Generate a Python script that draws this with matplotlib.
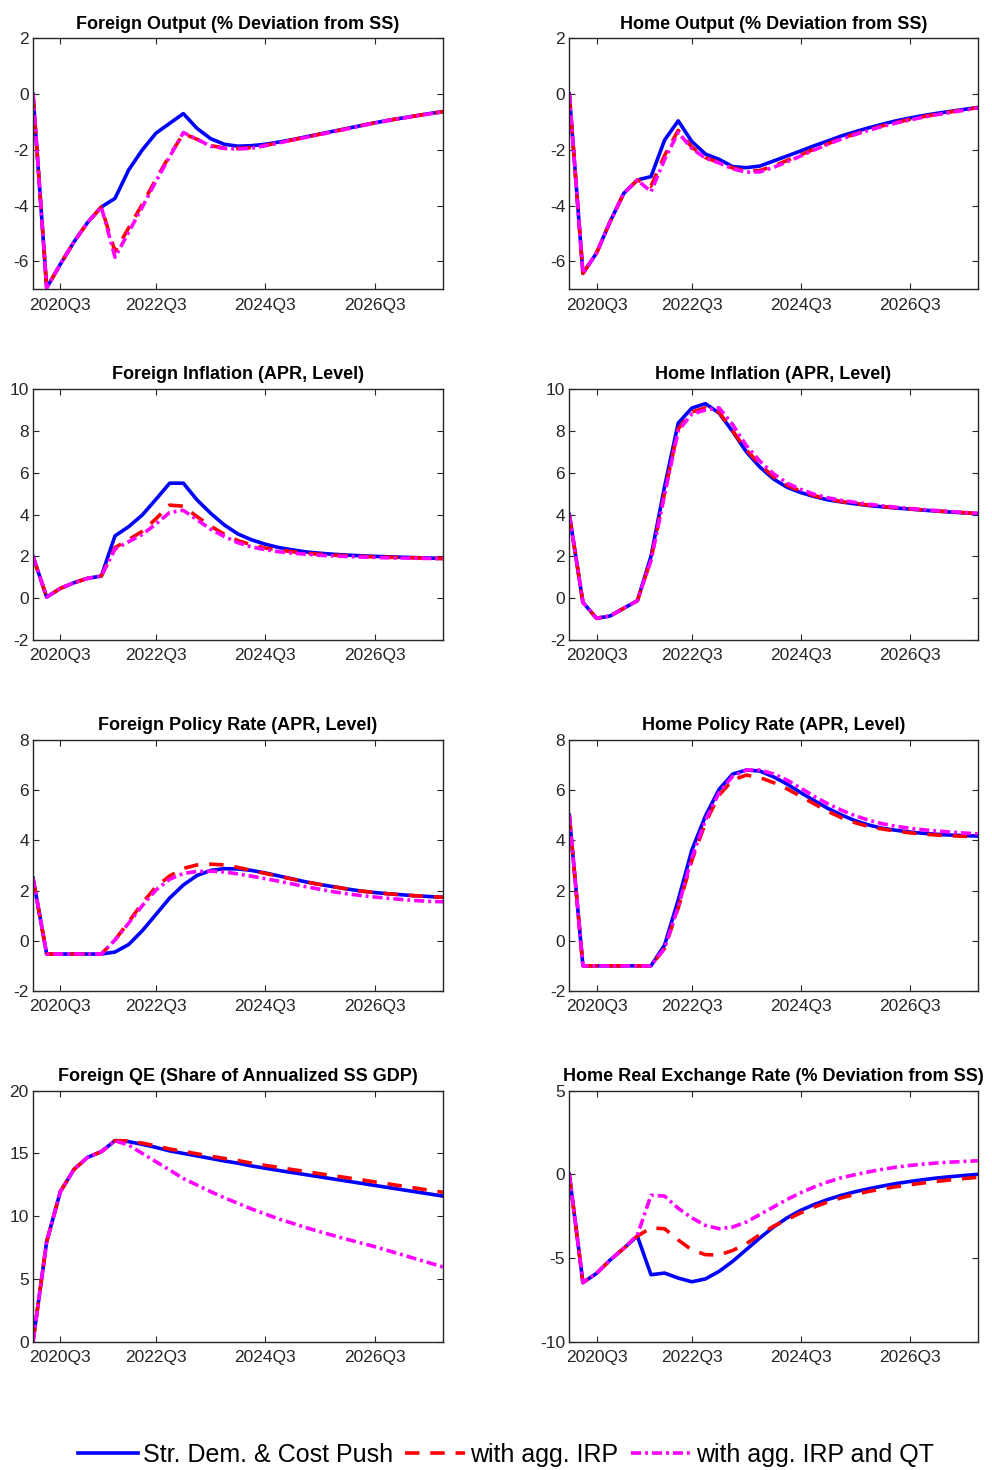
import matplotlib
matplotlib.use("Agg")
import matplotlib.pyplot as plt
import numpy as np

plt.rcParams['font.family'] = ['Liberation Sans', 'DejaVu Sans']
plt.rcParams['axes.unicode_minus'] = False

# quarters since 2020Q1
quarters = np.arange(31)
tick_pos = [2, 9, 17, 25]
tick_labels = ["2020Q3", "2022Q3", "2024Q3", "2026Q3"]

series_names = ["Str. Dem. & Cost Push", "with agg. IRP", "with agg. IRP and QT"]

# Foreign output (% deviation from SS)
fo_base = [0, -6.95, -6.1, -5.3, -4.6, -4.05, -3.74, -2.72, -2.0, -1.4, -1.05, -0.7, -1.23, -1.6, -1.8,
           -1.87, -1.85, -1.8, -1.72, -1.63, -1.53, -1.43, -1.33, -1.23, -1.13, -1.03, -0.94, -0.86, -0.78, -0.7, -0.63]
fo_irp = [0, -6.95, -6.1, -5.3, -4.6, -4.05, -5.65, -4.8, -3.95, -3.05, -2.2, -1.42, -1.62, -1.85, -1.93,
          -1.95, -1.92, -1.84, -1.74, -1.64, -1.54, -1.44, -1.34, -1.24, -1.13, -1.03, -0.94, -0.86, -0.78, -0.7, -0.63]
fo_qt = [0, -6.95, -6.1, -5.3, -4.6, -4.05, -5.85, -4.95, -4.05, -3.12, -2.25, -1.38, -1.62, -1.87, -1.95,
         -1.97, -1.94, -1.85, -1.75, -1.65, -1.55, -1.45, -1.35, -1.25, -1.14, -1.04, -0.95, -0.87, -0.79, -0.71, -0.64]

# Home output (% deviation from SS)
ho_base = [0, -6.43, -5.7, -4.57, -3.56, -3.08, -2.96, -1.65, -0.96, -1.7, -2.15, -2.34, -2.6, -2.64, -2.58,
           -2.4, -2.22, -2.04, -1.85, -1.68, -1.5, -1.35, -1.21, -1.08, -0.96, -0.86, -0.77, -0.69, -0.62, -0.55, -0.48]
ho_irp = [0, -6.43, -5.7, -4.57, -3.56, -3.08, -3.3, -2.2, -1.3, -1.9, -2.28, -2.45, -2.65, -2.76, -2.74,
          -2.58, -2.38, -2.18, -1.97, -1.78, -1.59, -1.43, -1.28, -1.14, -1.02, -0.91, -0.81, -0.72, -0.64, -0.56, -0.49]
ho_qt = [0, -6.43, -5.7, -4.57, -3.56, -3.08, -3.5, -2.35, -1.38, -1.95, -2.3, -2.47, -2.68, -2.8, -2.79,
         -2.63, -2.43, -2.22, -2.0, -1.8, -1.61, -1.45, -1.3, -1.16, -1.04, -0.93, -0.83, -0.74, -0.66, -0.58, -0.5]

# Foreign inflation (APR)
fi_base = [2.0, 0.05, 0.47, 0.74, 0.95, 1.06, 2.98, 3.42, 3.98, 4.73, 5.5, 5.5, 4.7, 4.06, 3.5,
           3.07, 2.79, 2.58, 2.42, 2.31, 2.21, 2.15, 2.1, 2.06, 2.03, 2.0, 1.98, 1.96, 1.94, 1.92, 1.9]
fi_irp = [2.0, 0.05, 0.47, 0.74, 0.95, 1.06, 2.42, 2.8, 3.2, 3.8, 4.45, 4.4, 3.9, 3.45, 3.05,
          2.75, 2.55, 2.4, 2.3, 2.22, 2.15, 2.1, 2.06, 2.03, 2.0, 1.98, 1.96, 1.94, 1.93, 1.91, 1.9]
fi_qt = [2.0, 0.05, 0.47, 0.74, 0.95, 1.06, 2.35, 2.7, 3.05, 3.55, 4.1, 4.2, 3.75, 3.3, 2.95,
         2.65, 2.45, 2.32, 2.22, 2.15, 2.1, 2.05, 2.02, 1.99, 1.97, 1.95, 1.93, 1.92, 1.91, 1.9, 1.89]

# Home inflation (APR)
hi_base = [4.0, -0.2, -0.96, -0.85, -0.48, -0.12, 2.0, 5.34, 8.37, 9.09, 9.3, 8.85, 7.97, 7.0, 6.27,
           5.7, 5.3, 5.05, 4.86, 4.7, 4.6, 4.51, 4.43, 4.37, 4.31, 4.26, 4.21, 4.16, 4.12, 4.08, 4.04]
hi_irp = [4.0, -0.2, -0.96, -0.85, -0.48, -0.12, 1.85, 5.05, 8.1, 8.9, 9.1, 8.9, 8.0, 7.1, 6.4,
          5.8, 5.4, 5.12, 4.9, 4.74, 4.62, 4.53, 4.45, 4.38, 4.32, 4.27, 4.22, 4.17, 4.13, 4.09, 4.05]
hi_qt = [4.0, -0.2, -0.96, -0.85, -0.48, -0.12, 1.8, 4.95, 8.0, 8.8, 9.0, 9.1, 8.3, 7.3, 6.55,
         5.95, 5.5, 5.2, 4.97, 4.8, 4.68, 4.58, 4.49, 4.42, 4.35, 4.29, 4.24, 4.19, 4.14, 4.1, 4.06]

# Foreign policy rate (APR)
fr_base = [2.5, -0.53, -0.53, -0.53, -0.53, -0.53, -0.45, -0.15, 0.4, 1.05, 1.7, 2.22, 2.6, 2.8, 2.87,
           2.86, 2.8, 2.7, 2.58, 2.46, 2.34, 2.24, 2.15, 2.06, 1.98, 1.92, 1.87, 1.83, 1.79, 1.76, 1.73]
fr_irp = [2.5, -0.53, -0.53, -0.53, -0.53, -0.53, 0.03, 0.75, 1.5, 2.15, 2.58, 2.88, 3.02, 3.05, 3.02,
          2.92, 2.8, 2.68, 2.57, 2.45, 2.34, 2.24, 2.15, 2.06, 1.98, 1.92, 1.87, 1.83, 1.79, 1.76, 1.73]
fr_qt = [2.5, -0.53, -0.53, -0.53, -0.53, -0.53, 0.03, 0.7, 1.4, 2.02, 2.45, 2.68, 2.76, 2.77, 2.74,
         2.66, 2.57, 2.47, 2.37, 2.26, 2.15, 2.05, 1.95, 1.87, 1.8, 1.74, 1.69, 1.64, 1.6, 1.57, 1.55]

# Home policy rate (APR)
hr_base = [5.0, -1.0, -1.0, -1.0, -1.0, -1.0, -1.0, -0.17, 1.62, 3.61, 4.97, 6.03, 6.64, 6.8, 6.76,
           6.53, 6.24, 5.9, 5.58, 5.27, 5.01, 4.78, 4.61, 4.48, 4.4, 4.33, 4.28, 4.24, 4.21, 4.19, 4.17]
hr_irp = [5.0, -1.0, -1.0, -1.0, -1.0, -1.0, -1.0, -0.3, 1.3, 3.2, 4.7, 5.8, 6.4, 6.6, 6.5,
          6.3, 6.05, 5.75, 5.45, 5.15, 4.9, 4.7, 4.55, 4.45, 4.37, 4.3, 4.25, 4.21, 4.18, 4.16, 4.15]
hr_qt = [5.0, -1.0, -1.0, -1.0, -1.0, -1.0, -1.0, -0.3, 1.35, 3.3, 4.8, 5.9, 6.55, 6.8, 6.8,
         6.65, 6.4, 6.08, 5.75, 5.45, 5.2, 4.98, 4.8, 4.66, 4.56, 4.48, 4.42, 4.37, 4.33, 4.29, 4.26]

# Foreign QE (share of annualized SS GDP)
qe_base = [0.0, 7.97, 11.95, 13.73, 14.69, 15.14, 16.02, 15.94, 15.72, 15.48, 15.2, 15.0, 14.8, 14.6, 14.4,
           14.22, 14.0, 13.82, 13.64, 13.47, 13.3, 13.13, 12.96, 12.79, 12.62, 12.45, 12.28, 12.11, 11.94, 11.77, 11.6]
qe_irp = [0.0, 7.97, 11.95, 13.73, 14.69, 15.14, 16.02, 16.0, 15.82, 15.6, 15.35, 15.16, 14.97, 14.78, 14.6,
          14.43, 14.22, 14.05, 13.88, 13.71, 13.55, 13.38, 13.22, 13.06, 12.9, 12.73, 12.57, 12.4, 12.23, 12.07, 11.9]
qe_qt = [0.0, 7.97, 11.95, 13.73, 14.69, 15.14, 16.0, 15.67, 15.0, 14.34, 13.68, 13.0, 12.48, 11.95, 11.47,
         11.02, 10.57, 10.17, 9.77, 9.43, 9.08, 8.76, 8.45, 8.15, 7.86, 7.57, 7.25, 6.93, 6.6, 6.28, 5.95]

# Home real exchange rate (% deviation from SS)
rer_base = [0.0, -6.47, -5.92, -5.12, -4.42, -3.69, -6.0, -5.9, -6.2, -6.42, -6.25, -5.8, -5.2, -4.5, -3.8,
            -3.15, -2.6, -2.15, -1.8, -1.5, -1.25, -1.04, -0.86, -0.7, -0.55, -0.43, -0.32, -0.22, -0.14, -0.07, 0.0]
rer_irp = [0.0, -6.47, -5.92, -5.12, -4.42, -3.69, -3.2, -3.25, -3.92, -4.52, -4.8, -4.82, -4.55, -4.15, -3.6,
           -3.1, -2.7, -2.3, -1.95, -1.65, -1.4, -1.2, -1.02, -0.87, -0.74, -0.62, -0.52, -0.42, -0.33, -0.25, -0.18]
rer_qt = [0.0, -6.47, -5.92, -5.12, -4.42, -3.63, -1.25, -1.3, -2.03, -2.6, -3.05, -3.25, -3.15, -2.85, -2.4,
          -1.95, -1.5, -1.1, -0.75, -0.45, -0.2, -0.02, 0.15, 0.3, 0.43, 0.53, 0.61, 0.68, 0.73, 0.77, 0.81]

panels = [
    ("Foreign Output (% Deviation from SS)", (fo_base, fo_irp, fo_qt), (-7, 2), [-6, -4, -2, 0, 2]),
    ("Home Output (% Deviation from SS)", (ho_base, ho_irp, ho_qt), (-7, 2), [-6, -4, -2, 0, 2]),
    ("Foreign Inflation (APR, Level)", (fi_base, fi_irp, fi_qt), (-2, 10), [-2, 0, 2, 4, 6, 8, 10]),
    ("Home Inflation (APR, Level)", (hi_base, hi_irp, hi_qt), (-2, 10), [-2, 0, 2, 4, 6, 8, 10]),
    ("Foreign Policy Rate (APR, Level)", (fr_base, fr_irp, fr_qt), (-2, 8), [-2, 0, 2, 4, 6, 8]),
    ("Home Policy Rate (APR, Level)", (hr_base, hr_irp, hr_qt), (-2, 8), [-2, 0, 2, 4, 6, 8]),
    ("Foreign QE (Share of Annualized SS GDP)", (qe_base, qe_irp, qe_qt), (0, 20), [0, 5, 10, 15, 20]),
    ("Home Real Exchange Rate (% Deviation from SS)", (rer_base, rer_irp, rer_qt), (-10, 5), [-10, -5, 0, 5]),
]

line_styles = [
    dict(color="#0000ff", lw=2.6, linestyle="-"),
    dict(color="#ff0000", lw=2.6, linestyle=(0, (4, 3))),
    dict(color="#ff00ff", lw=2.6, linestyle=(0, (2.8, 1.1, 0.8, 1.1))),
]

axis_color = "#262626"


def draw_panel(ax, title, data, ylim, yticks):
    handles = []
    for values, style, name in zip(data, line_styles, series_names):
        h, = ax.plot(quarters, values, label=name, **style)
        handles.append(h)
    ax.set_xlim(quarters[0], quarters[-1])
    ax.set_ylim(*ylim)
    ax.set_yticks(yticks)
    ax.set_xticks(tick_pos)
    ax.set_xticklabels(tick_labels)
    ax.set_title(title, fontsize=13, fontweight="bold", pad=7)
    ax.tick_params(direction="in", top=True, right=True, length=4, width=0.8,
                   labelsize=12.5, colors=axis_color)
    ax.tick_params(axis="x", pad=6)
    ax.tick_params(axis="y", pad=3)
    for spine in ax.spines.values():
        spine.set_color(axis_color)
        spine.set_linewidth(1.0)
    return handles


def main():
    fig = plt.figure(figsize=(9.92, 14.7), dpi=100)
    lefts = [33 / 992, 569.3 / 992]
    widths = [410 / 992, 408.4 / 992]
    bottoms = [0.8032, 0.5646, 0.3259, 0.0873]
    height = 251 / 1470

    handles = None
    for i, (title, data, ylim, yticks) in enumerate(panels):
        row, col = divmod(i, 2)
        ax = fig.add_axes([lefts[col], bottoms[row], widths[col], height])
        handles = draw_panel(ax, title, data, ylim, yticks)

    fig.legend(handles, series_names, loc="center", bbox_to_anchor=(0.51, 0.0102),
               ncol=3, frameon=False, fontsize=18, handlelength=2.4,
               handletextpad=0.2, columnspacing=0.5)

    fig.savefig("out.png", dpi=100)
    plt.close(fig)


if __name__ == "__main__":
    main()
